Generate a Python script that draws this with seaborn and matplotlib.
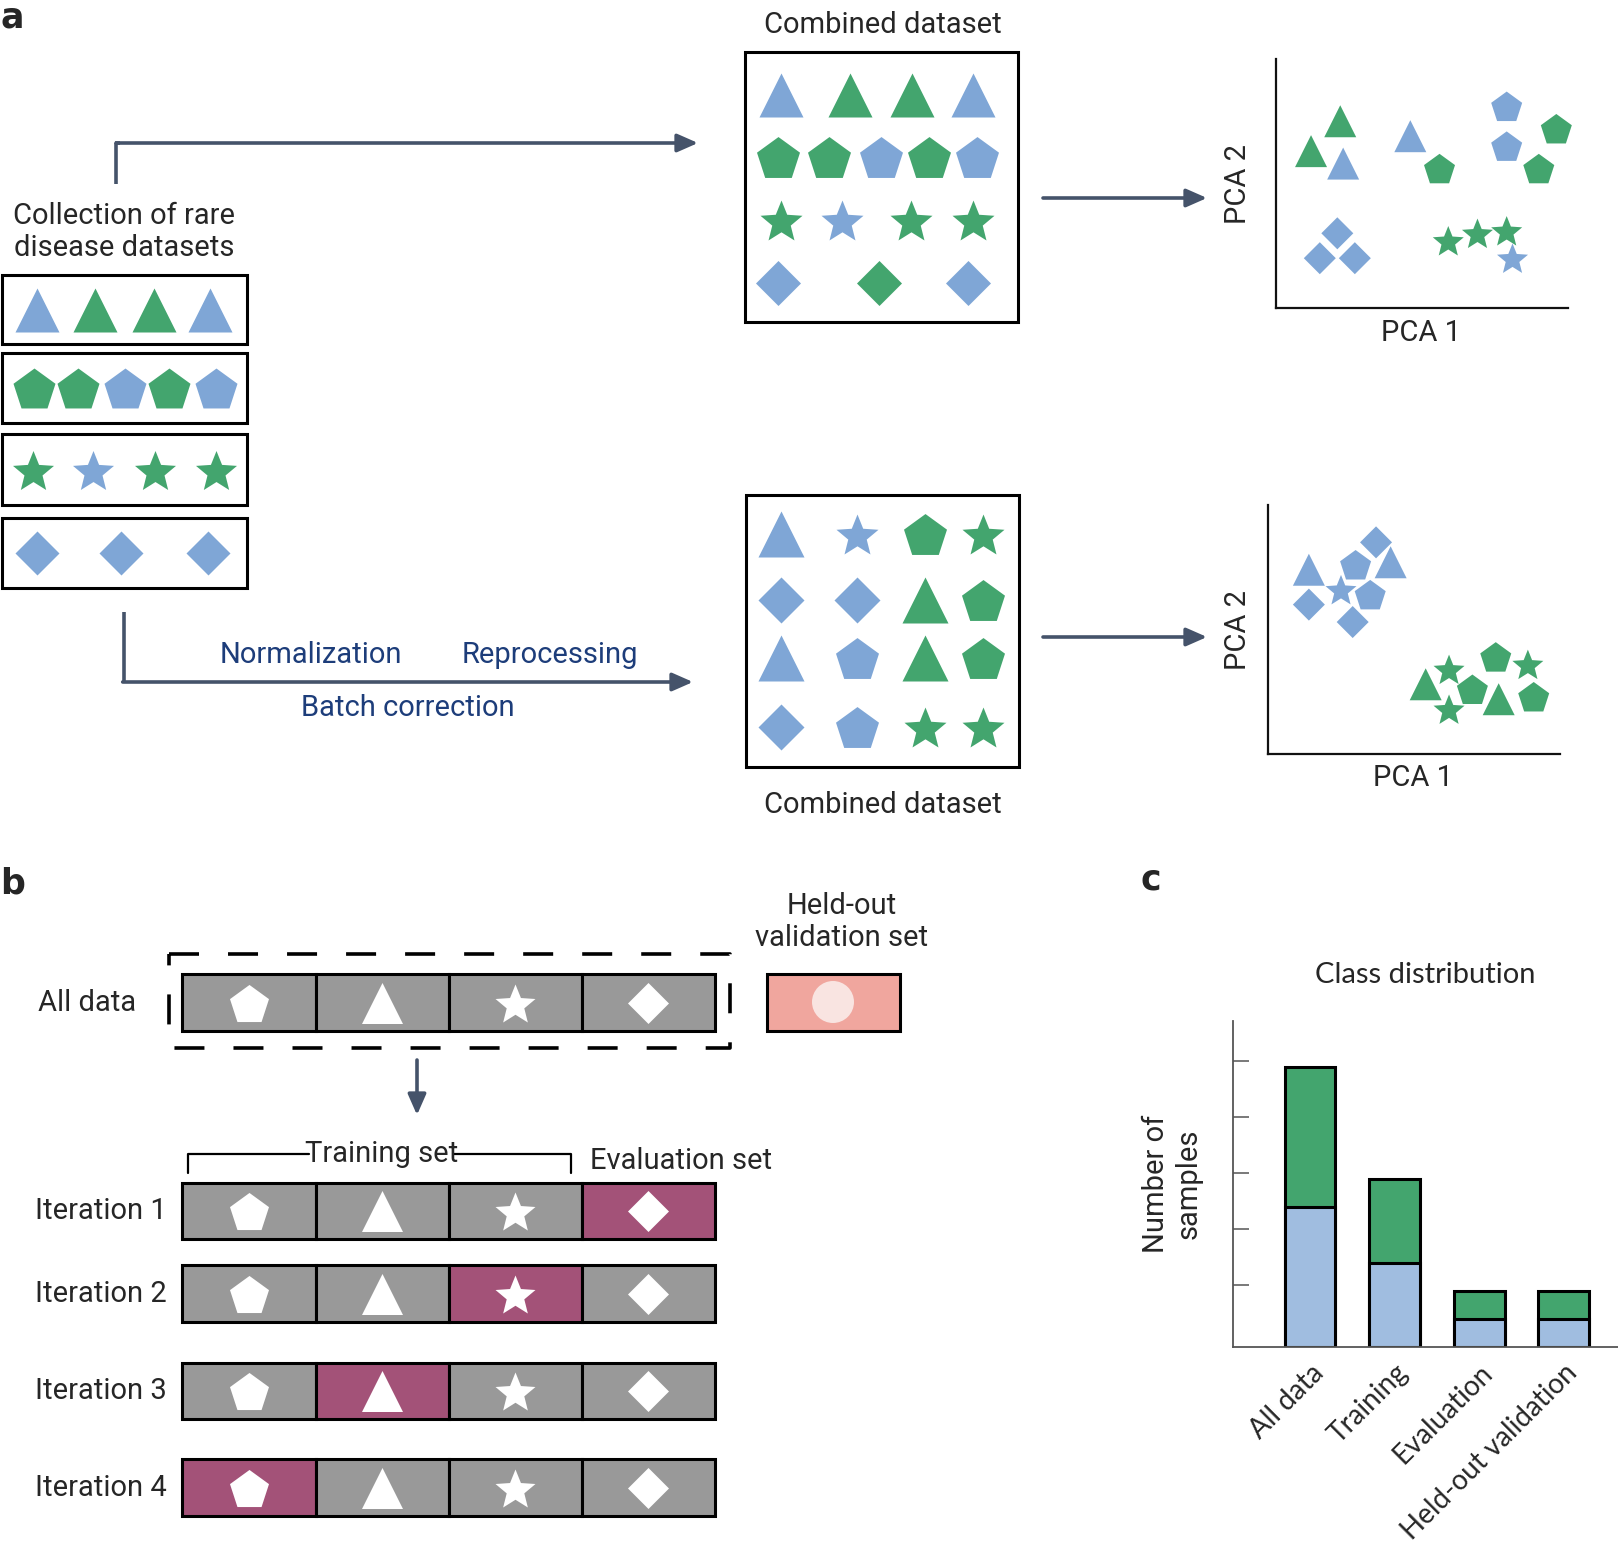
import numpy as np
import pandas as pd
import matplotlib.pyplot as plt
import seaborn as sns
from matplotlib.path import Path
from matplotlib.patches import Rectangle, Ellipse

sns.set_theme(style='white')
plt.rcParams['lines.scale_dashes'] = False

W, H = 1618, 1546

# ---- data -------------------------------------------------------------
# a: rare disease datasets (one list per dataset, class of each sample)
collection_shapes = ['triangle', 'pentagon', 'star', 'diamond']
collection_classes = [['b', 'g', 'g', 'b'],
                      ['g', 'g', 'b', 'g', 'b'],
                      ['g', 'b', 'g', 'g'],
                      ['b', 'b', 'b']]

# combined dataset before correction (same rows as the collection)
combined_raw_classes = [['b', 'g', 'g', 'b'],
                        ['g', 'g', 'b', 'g', 'b'],
                        ['g', 'b', 'g', 'g'],
                        ['b', 'g', 'b']]

# combined dataset after normalization / batch correction
combined_fix_shapes = [['triangle', 'star', 'pentagon', 'star'],
                       ['diamond', 'diamond', 'triangle', 'pentagon'],
                       ['triangle', 'pentagon', 'triangle', 'pentagon'],
                       ['diamond', 'pentagon', 'star', 'star']]
combined_fix_classes = [['b', 'b', 'g', 'g'],
                        ['b', 'b', 'g', 'g'],
                        ['b', 'b', 'g', 'g'],
                        ['b', 'b', 'g', 'g']]

# PCA before correction
pca_raw_pc1 = [2.2, 1.2, 2.3, 4.6, 5.6, 7.9, 7.9, 9.6, 9.0, 2.1, 1.5, 2.7, 5.9, 6.9, 7.9, 8.1]
pca_raw_pc2 = [7.5, 6.3, 5.8, 6.9, 5.6, 8.1, 6.5, 7.2, 5.6, 3.0, 2.0, 2.0, 2.7, 3.0, 3.1, 2.0]
pca_raw_shape = ['triangle', 'triangle', 'triangle', 'triangle', 'pentagon', 'pentagon',
                 'pentagon', 'pentagon', 'pentagon', 'diamond', 'diamond', 'diamond',
                 'star', 'star', 'star', 'star']
pca_raw_cls = ['g', 'g', 'b', 'b', 'g', 'b', 'b', 'g', 'g', 'b', 'b', 'b', 'g', 'g', 'g', 'b']

# PCA after correction
pca_fix_pc1 = [1.4, 3.7, 3.0, 4.2, 2.5, 3.5, 1.4, 2.9, 6.2, 7.8, 8.9, 5.4, 7.0, 7.9, 9.1, 6.2]
pca_fix_pc2 = [7.4, 8.5, 7.6, 7.7, 6.6, 6.4, 6.0, 5.3, 3.4, 3.9, 3.6, 2.8, 2.6, 2.2, 2.3, 1.8]
pca_fix_shape = ['triangle', 'diamond', 'pentagon', 'triangle', 'star', 'pentagon', 'diamond',
                 'diamond', 'star', 'pentagon', 'star', 'triangle', 'pentagon', 'triangle',
                 'pentagon', 'star']
pca_fix_cls = ['b'] * 8 + ['g'] * 8

# b: cross-validation folds
fold_shapes = ['pentagon', 'triangle', 'star', 'diamond']
iterations = ['Iteration 1', 'Iteration 2', 'Iteration 3', 'Iteration 4']
eval_fold = [3, 2, 1, 0]

# c: class distribution
splits = ['All data', 'Training', 'Evaluation', 'Held-out validation']
class_blue = [25, 15, 5, 5]
class_green = [25, 15, 5, 5]
y_ticks = [11, 21, 31, 41, 51]

# ---- style ------------------------------------------------------------
BLUE = '#7fa6d6'
GREEN = '#43a56e'
CLS_COL = {'b': BLUE, 'g': GREEN}
BAR_BLUE = '#a0bde0'
CELL_GREY = '#999999'
EVAL_COL = '#a35278'
HELD_COL = '#f0a69e'
ARROW_COL = '#45536a'
NAVY = '#1d3d7a'
FONT = ['Roboto', 'DejaVu Sans']
GEO = ['Lato', 'DejaVu Sans']
FS = 21


def glyph(kind):
    if kind == 'triangle':
        v = [(-1, -1), (1, -1), (0, 1), (-1, -1)]
    elif kind == 'diamond':
        v = [(0, 1), (1, 0), (0, -1), (-1, 0), (0, 1)]
    else:
        ang = np.deg2rad(90 + 72 * np.arange(5))
        outer = np.c_[np.cos(ang), np.sin(ang)]
        if kind == 'pentagon':
            pts = outer
        else:
            a2 = ang + np.deg2rad(36)
            pts = np.empty((10, 2))
            pts[0::2] = outer
            pts[1::2] = 0.44 * np.c_[np.cos(a2), np.sin(a2)]
        pts = pts.copy()
        pts[:, 1] -= (pts[:, 1].max() + pts[:, 1].min()) / 2
        v = np.vstack([pts, pts[:1]])
    return Path(v, closed=True)


GLYPHS = {k: glyph(k) for k in ['triangle', 'pentagon', 'star', 'diamond']}


def s_px(px):
    # marker area for a glyph px pixels across
    return (px * 0.72) ** 2


def px_rect(x0, y0, x1, y1):
    return [x0 / W, 1 - y1 / H, (x1 - x0) / W, (y1 - y0) / H]


fig = plt.figure(figsize=(W / 100, H / 100), dpi=100)
ax = fig.add_axes([0, 0, 1, 1])
ax.set_xlim(0, W)
ax.set_ylim(H, 0)
ax.axis('off')


def put_glyphs(xs, ys, kinds, colors, size):
    for x, y, k, c in zip(xs, ys, kinds, colors):
        ax.scatter([x], [y], s=s_px(size[k]), marker=GLYPHS[k], c=[c], linewidths=0, zorder=3)


def arrow(x0, y0, x1, y1):
    ax.annotate('', xy=(x1, y1), xytext=(x0, y0),
                arrowprops=dict(arrowstyle='-|>,head_length=0.5,head_width=0.22', color=ARROW_COL,
                                lw=2.6, shrinkA=0, shrinkB=0, mutation_scale=25))


def panel_label(x, y, s, va='baseline'):
    ax.text(x, y, s, fontsize=25, fontweight='heavy', family='DejaVu Sans', va=va)


# ---- panel a ------------------------------------------------------------
panel_label(0, 0.5, 'a', va='top')
ax.text(124, 232, 'Collection of rare\ndisease datasets', fontsize=FS, family=FONT,
        ha='center', va='center', linespacing=1.2)

box_rows = [(275, 344), (353, 423), (434, 505), (518, 588)]
box_x = [[37, 95, 154, 210], [34, 78, 125, 169, 216], [33, 93, 155, 216], [37, 121, 208]]
size_big = {'triangle': 44, 'pentagon': 42, 'star': 41, 'diamond': 44}
for (y0, y1), kind, cls, xs in zip(box_rows, collection_shapes, collection_classes, box_x):
    ax.add_patch(Rectangle((2, y0), 245, y1 - y0, fill=False, ec='black', lw=2.2, zorder=2))
    put_glyphs(xs, [(y0 + y1) / 2] * len(xs), [kind] * len(xs), [CLS_COL[c] for c in cls], size_big)

# top route: raw merge
ax.plot([116, 116], [184, 143], color=ARROW_COL, lw=2.6, solid_capstyle='butt')
ax.plot([114.7, 120], [143, 143], color=ARROW_COL, lw=2.6, solid_capstyle='butt')
arrow(116, 143, 698, 143)

# bottom route: corrected merge
ax.plot([124, 124], [612, 682], color=ARROW_COL, lw=2.6, solid_capstyle='butt')
arrow(122.7, 682, 693, 682)
ax.text(311, 663, 'Normalization', fontsize=FS, family=FONT, color=NAVY, ha='center', va='baseline')
ax.text(550, 663, 'Reprocessing', fontsize=FS, family=FONT, color=NAVY, ha='center', va='baseline')
ax.text(408, 716, 'Batch correction', fontsize=FS, family=FONT, color=NAVY, ha='center', va='baseline')

# combined dataset boxes
ax.text(883, 25, 'Combined dataset', fontsize=FS, family=FONT, ha='center', va='center')
ax.add_patch(Rectangle((745, 52), 273, 270, fill=False, ec='black', lw=2.2))
raw_y = [95, 157, 220, 283]
raw_x = [[781, 850, 912, 973], [778, 829, 881, 929, 977], [781, 842, 911, 973], [778, 879, 968]]
size_mid = {'triangle': 44, 'pentagon': 43, 'star': 42, 'diamond': 45}
for y, kind, cls, xs in zip(raw_y, collection_shapes, combined_raw_classes, raw_x):
    put_glyphs(xs, [y] * len(xs), [kind] * len(xs), [CLS_COL[c] for c in cls], size_mid)

ax.text(883, 805, 'Combined dataset', fontsize=FS, family=FONT, ha='center', va='center')
ax.add_patch(Rectangle((746, 495), 273, 272, fill=False, ec='black', lw=2.2))
fix_y = [534, 600, 658, 727]
fix_x = [781, 857, 925, 983]
size_fix = {'triangle': 46, 'pentagon': 43, 'star': 42, 'diamond': 46}
for y, kinds, cls in zip(fix_y, combined_fix_shapes, combined_fix_classes):
    put_glyphs(fix_x, [y] * 4, kinds, [CLS_COL[c] for c in cls], size_fix)

arrow(1043, 198, 1207, 198)
arrow(1043, 637, 1207, 637)


# PCA scatter panels
def pca_panel(rect, pc1, pc2, shapes, cls, lab2, lab1):
    pa = fig.add_axes(px_rect(*rect))
    df = pd.DataFrame({'PCA 1': pc1, 'PCA 2': pc2, 'shape': shapes,
                       'cls': [CLS_COL[c] for c in cls]})
    sns.scatterplot(data=df, x='PCA 1', y='PCA 2', style='shape', markers=GLYPHS,
                    size='shape', sizes={'triangle': s_px(32), 'diamond': s_px(32),
                                         'pentagon': s_px(31), 'star': s_px(31)},
                    hue='cls', palette={BLUE: BLUE, GREEN: GREEN},
                    linewidth=0, legend=False, ax=pa, clip_on=False)
    pa.set_xlim(0, 10)
    pa.set_ylim(0, 10)
    pa.set_xticks([])
    pa.set_yticks([])
    pa.set_xlabel('')
    pa.set_ylabel('')
    pa.patch.set_alpha(0)
    for side in ['top', 'right']:
        pa.spines[side].set_visible(False)
    for side in ['left', 'bottom']:
        pa.spines[side].set_color('#111111')
        pa.spines[side].set_linewidth(1.6)
    ax.text(lab2[0], lab2[1], 'PCA 2', fontsize=FS, family=FONT, rotation=90, ha='center', va='center')
    ax.text(lab1[0], lab1[1], 'PCA 1', fontsize=FS, family=FONT, ha='center', va='center')


pca_panel((1276, 59, 1568, 308), pca_raw_pc1, pca_raw_pc2, pca_raw_shape, pca_raw_cls,
          (1238, 184), (1421, 333))
pca_panel((1268, 505, 1560, 754), pca_fix_pc1, pca_fix_pc2, pca_fix_shape, pca_fix_cls,
          (1238, 630), (1413, 778))

# ---- panel b ------------------------------------------------------------
panel_label(0, 893, 'b')
ax.text(842, 922, 'Held-out\nvalidation set', fontsize=FS, family=FONT, ha='center', va='center',
        linespacing=1.2)

cell_edges = [182, 316, 449, 582, 715]
size_cell = {'pentagon': 39, 'triangle': 41, 'star': 40, 'diamond': 41}


def fold_row(y0, y1, highlight=None):
    for i, kind in enumerate(fold_shapes):
        fc = EVAL_COL if i == highlight else CELL_GREY
        ax.add_patch(Rectangle((cell_edges[i], y0), cell_edges[i + 1] - cell_edges[i], y1 - y0,
                               fc=fc, ec='black', lw=2.2, zorder=2))
        put_glyphs([(cell_edges[i] + cell_edges[i + 1]) / 2], [(y0 + y1) / 2], [kind], ['white'], size_cell)


fold_row(974, 1031)
ax.text(136, 1003, 'All data', fontsize=FS, family=FONT, ha='right', va='center')
ax.plot([169, 730, 730, 169, 169], [954, 954, 1048, 1048, 954], color='black', lw=2.6,
        dashes=(21.6, 20.9), solid_capstyle='butt', dash_capstyle='butt')

ax.add_patch(Rectangle((767, 974), 133, 57, fc=HELD_COL, ec='black', lw=2.2))
ax.add_patch(Ellipse((833, 1002), 42, 42, fc='#f9e4e1', ec='none', zorder=3))

arrow(417, 1060, 417, 1115)

# training / evaluation bracket
ax.plot([188, 188, 309], [1173, 1154, 1154], color='black', lw=1.6)
ax.plot([454, 571, 571], [1154, 1154, 1173], color='black', lw=1.6)
ax.text(382, 1154, 'Training set', fontsize=FS, family=FONT, ha='center', va='center')
ax.text(681, 1161, 'Evaluation set', fontsize=FS, family=FONT, ha='center', va='center')

iter_rows = [(1183, 1239), (1265, 1322), (1363, 1419), (1459, 1516)]
for name, (y0, y1), k in zip(iterations, iter_rows, eval_fold):
    fold_row(y0, y1, highlight=k)
    ax.text(167, (y0 + y1) / 2, name, fontsize=FS, family=FONT, ha='right', va='center')

# ---- panel c ------------------------------------------------------------
panel_label(1141, 890, 'c')
ax.text(1425, 975, 'Class distribution', fontsize=FS, family=GEO, ha='center', va='center')
ax.text(1172, 1184, 'Number of\nsamples', fontsize=FS, family=FONT, rotation=90,
        ha='center', va='center', linespacing=1.2)

axc = fig.add_axes(px_rect(1233, 1021, 1618, 1347))
bars = pd.DataFrame({'split': splits, 'blue': class_blue, 'green': class_green})
bars['total'] = bars['blue'] + bars['green']
sns.barplot(data=bars, x='split', y='total', color=GREEN, saturation=1, width=0.6,
            edgecolor='black', linewidth=2.2, ax=axc)
sns.barplot(data=bars, x='split', y='blue', color=BAR_BLUE, saturation=1, width=0.6,
            edgecolor='black', linewidth=2.2, ax=axc)
axc.set_xlim(-0.91, 3.64)
axc.set_ylim(0, 58.2)
axc.set_xlabel('')
axc.set_ylabel('')
axc.patch.set_alpha(0)
axc.set_yticks(y_ticks)
axc.tick_params(axis='y', direction='in', length=11.5, width=1.1, color='#555555', labelleft=False, left=True)
axc.tick_params(axis='x', length=0, pad=9)
axc.set_xticks(range(len(splits)))
axc.set_xticklabels(splits, rotation=45, ha='right', rotation_mode='anchor', fontsize=20, family=GEO)
for side in ['top', 'right']:
    axc.spines[side].set_visible(False)
for side in ['left', 'bottom']:
    axc.spines[side].set_color('#555555')
    axc.spines[side].set_linewidth(1.3)

fig.savefig('out.png', dpi=100)
